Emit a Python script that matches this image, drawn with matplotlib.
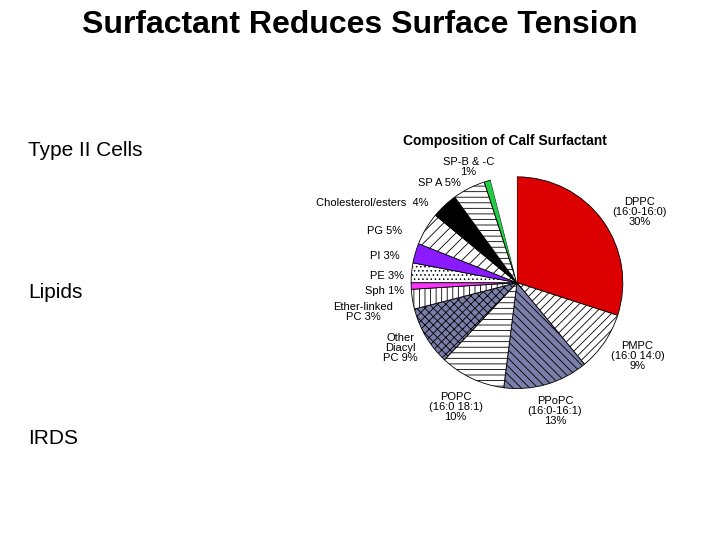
import matplotlib
matplotlib.use("Agg")
import matplotlib.pyplot as plt

plt.rcParams['font.family'] = ['Liberation Sans', 'DejaVu Sans']
plt.rcParams['hatch.linewidth'] = 0.6

# slices clockwise from 12 o'clock
names = ["DPPC", "PMPC", "PPoPC", "POPC", "Other Diacyl PC", "Ether-linked PC",
         "Sph", "PE", "PI", "PG", "Cholesterol/esters", "SP A", "SP-B & -C", "blank"]
values = [30, 9, 13, 10, 9, 3, 1, 3, 3, 5, 4, 5, 1, 4]
colors = ["#dd0000", "white", "#7a7ea8", "white", "#7a7ea8", "white", "#ff33ff",
          "white", "#8a1aff", "white", "black", "white", "#22cc44", "white"]
hatches = ["", "////", "\\\\\\\\", "---", "xxxx", "|||", "", "....", "", "///",
           "\\\\", "---", "", ""]

labels = ["DPPC\n(16:0-16:0)\n30%", "PMPC\n(16:0 14:0)\n9%", "PPoPC\n(16:0-16:1)\n13%",
          "POPC\n(16:0 18:1)\n10%", "Other\nDiacyl\nPC 9%", "Ether-linked\nPC 3%",
          "Sph 1%", "PE 3%", "PI 3%", "PG 5%", "Cholesterol/esters  4%", "SP A 5%",
          "SP-B & -C\n1%"]
label_pos = [(1.16, 0.67), (1.14, -0.69), (0.36, -1.21), (-0.58, -1.17), (-1.10, -0.62),
             (-1.45, -0.28), (-1.25, -0.08), (-1.23, 0.06), (-1.25, 0.25), (-1.25, 0.49),
             (-1.37, 0.75), (-0.73, 0.94), (-0.46, 1.09)]

fig = plt.figure(figsize=(7.2, 5.4), dpi=100)
fig.text(0.5, 1 - 25 / 540, "Surfactant Reduces Surface Tension", ha="center", va="center",
         fontsize=23, fontweight="bold")
for txt, py in [("Type II Cells", 150), ("Lipids", 293), ("IRDS", 438)]:
    fig.text(28 / 720, 1 - py / 540, txt, ha="left", va="center", fontsize=15)

ax = fig.add_axes([0.571, 0.280, 0.294, 0.393])
wedges, _ = ax.pie(values, colors=colors, startangle=90, counterclock=False, radius=1,
                   wedgeprops=dict(edgecolor="black", linewidth=0.6))
for w, h in zip(wedges, hatches):
    w.set_hatch(h)
wedges[-1].set_linewidth(0)
ax.set_xlim(-1, 1)
ax.set_ylim(-1, 1)
ax.axis("off")

for txt, (x, y) in zip(labels, label_pos):
    ax.text(x, y, txt, ha="center", va="center", fontsize=8, linespacing=1.0, clip_on=False)
ax.text(-0.11, 1.34, "Composition of Calf Surfactant", ha="center", va="center",
        fontsize=10, fontweight="bold", clip_on=False)

fig.savefig("out.png", dpi=100)
